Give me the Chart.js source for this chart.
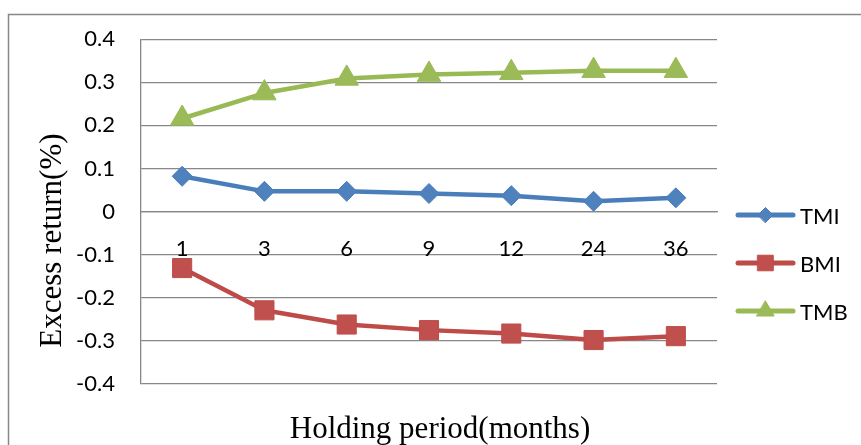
<!DOCTYPE html>
<html>
<head>
<meta charset="utf-8">
<title>Excess return by holding period</title>
<script src="https://cdn.jsdelivr.net/npm/chart.js@4.4.1/dist/chart.umd.min.js"></script>
<style>
  html, body { margin: 0; padding: 0; background: #fff; }
  canvas { display: block; }
</style>
</head>
<body>
<canvas id="returnChart" width="861" height="445"></canvas>
<script>
// ---------------------------------------------------------
// DATA
// ---------------------------------------------------------
const periods = ['1', '3', '6', '9', '12', '24', '36'];
const tmiValues = [0.082, 0.047, 0.047, 0.042, 0.037, 0.024, 0.032];
const bmiValues = [-0.131, -0.229, -0.262, -0.275, -0.283, -0.298, -0.289];
const tmbValues = [0.216, 0.275, 0.309, 0.318, 0.322, 0.327, 0.327];
const yTickValues = [-0.4, -0.3, -0.2, -0.1, 0, 0.1, 0.2, 0.3, 0.4];
const yTickLabels = ['-0.4', '-0.3', '-0.2', '-0.1', '0', '0.1', '0.2', '0.3', '0.4'];

const xTitle = 'Holding period(months)';
const yTitle = 'Excess return(%)';

const GRID = '#878787';
const LABEL_FONT = { family: 'Lato', size: 22 };
const TITLE_FONT = '31px "Liberation Serif"';

// ---------------------------------------------------------
// PLUGINS
// ---------------------------------------------------------
// white background + the grey chart frame (runs off the right/bottom edge)
const chartFrame = {
    id: 'chartFrame',
    beforeDraw(chart) {
        const ctx = chart.ctx;
        ctx.save();
        ctx.fillStyle = '#fff';
        ctx.fillRect(0, 0, chart.width, chart.height);
        ctx.strokeStyle = GRID;
        ctx.lineWidth = 1.5;
        ctx.strokeRect(8.5, 14.5, chart.width + 20, chart.height + 20);
        ctx.restore();
    }
};

// axis titles in serif, placed like the Excel original
const axisTitles = {
    id: 'axisTitles',
    afterDraw(chart) {
        const { ctx, chartArea } = chart;
        ctx.save();
        ctx.fillStyle = '#000';
        ctx.font = TITLE_FONT;
        ctx.textAlign = 'center';
        ctx.textBaseline = 'alphabetic';
        ctx.fillText(xTitle, (chartArea.left + chartArea.right) / 2 + 11, chartArea.bottom + 54);

        ctx.translate(chartArea.left - 80, (chartArea.top + chartArea.bottom) / 2 + 29);
        ctx.rotate(-Math.PI / 2);
        ctx.fillText(yTitle, 0, 0);
        ctx.restore();
    }
};

// legend on the right: line sample with marker in the middle
const sideLegend = {
    id: 'sideLegend',
    afterDraw(chart) {
        const { ctx, chartArea } = chart;
        const x0 = chartArea.right + 21;
        const x1 = chartArea.right + 76;
        chart.data.datasets.forEach((ds, i) => {
            const y = 215 + i * 48;
            ctx.save();
            ctx.strokeStyle = ds.borderColor;
            ctx.lineWidth = 5;
            ctx.lineCap = 'round';
            ctx.beginPath();
            ctx.moveTo(x0, y);
            ctx.lineTo(x1, y);
            ctx.stroke();

            ctx.fillStyle = ds.pointBackgroundColor;
            ctx.strokeStyle = ds.pointBorderColor;
            ctx.lineWidth = 1;
            Chart.helpers.drawPoint(ctx, {
                pointStyle: ds.pointStyle,
                radius: ds.legendRadius,
                borderWidth: 1,
                rotation: 0
            }, (x0 + x1) / 2, y);

            ctx.fillStyle = '#000';
            ctx.font = LABEL_FONT.size + 'px ' + LABEL_FONT.family;
            ctx.textAlign = 'left';
            ctx.textBaseline = 'middle';
            ctx.fillText(ds.label, x1 + 7, y + 2);
            ctx.restore();
        });
    }
};

// ---------------------------------------------------------
// CHART
// ---------------------------------------------------------
function makeSeries(label, values, line, fill, style, radius, legendRadius) {
    return {
        label: label,
        data: values,
        borderColor: line,
        backgroundColor: fill,
        pointBackgroundColor: fill,
        pointBorderColor: line,
        pointStyle: style,
        pointRadius: radius,
        pointHoverRadius: radius,
        pointBorderWidth: 1,
        legendRadius: legendRadius,
        borderWidth: 4.5,
        borderCapStyle: 'round',
        borderJoinStyle: 'round',
        tension: 0,
        fill: false
    };
}

const ctx = document.getElementById('returnChart').getContext('2d');
new Chart(ctx, {
    type: 'line',
    data: {
        labels: periods,
        datasets: [
            makeSeries('TMI', tmiValues, '#4A7EBB', '#4F81BD', 'rectRot', 10, 7.5),
            makeSeries('BMI', bmiValues, '#BE4B48', '#C0504D', 'rect', 13.5, 11),
            makeSeries('TMB', tmbValues, '#98B954', '#9BBB59', 'triangle', 13.5, 10)
        ]
    },
    options: {
        responsive: false,
        animation: false,
        layout: { padding: { top: 38, right: 144, bottom: 61, left: 0 } },
        plugins: {
            legend: { display: false },
            tooltip: { enabled: false }
        },
        scales: {
            x: {
                type: 'category',
                offset: true,
                position: { y: 0 },
                grid: { display: false, drawTicks: false },
                border: { display: true, color: GRID, width: 1.3 },
                ticks: {
                    color: '#000',
                    font: LABEL_FONT,
                    padding: 24,
                    maxRotation: 0,
                    autoSkip: false
                }
            },
            y: {
                min: -0.4,
                max: 0.4,
                afterBuildTicks(scale) {
                    scale.ticks = yTickValues.map(v => ({ value: v }));
                },
                afterFit(scale) {
                    scale.width = 141;
                },
                grid: { color: GRID, lineWidth: 1.3, drawTicks: false },
                border: { display: true, color: GRID, width: 1.3 },
                ticks: {
                    color: '#000',
                    font: LABEL_FONT,
                    padding: 26,
                    callback: (value, index) => yTickLabels[index]
                }
            }
        }
    },
    plugins: [chartFrame, axisTitles, sideLegend]
});
</script>
</body>
</html>
